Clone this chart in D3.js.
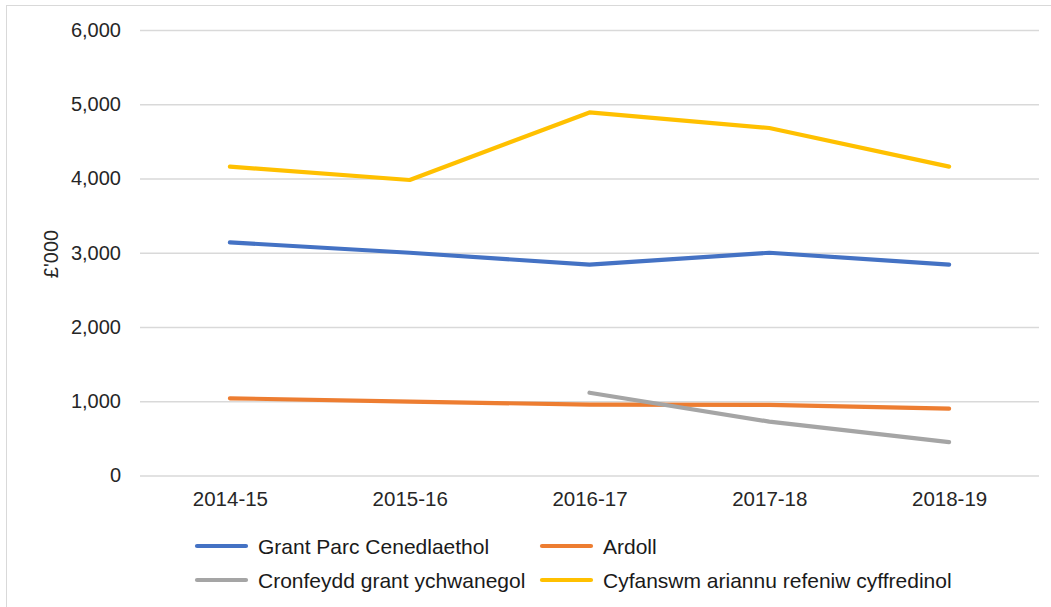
<!DOCTYPE html>
<html>
<head>
<meta charset="utf-8">
<script src="https://cdn.jsdelivr.net/npm/d3@7"></script>
<style>
  body { margin: 0; background: #fff; }
  svg { display: block; font-family: "Liberation Sans", Arial, sans-serif; }
</style>
</head>
<body>
<div id="chart"></div>
<script>
// data (£'000)
var categories = ["2014-15", "2015-16", "2016-17", "2017-18", "2018-19"];
var grantParc = [3140, 3000, 2840, 3000, 2840];
var ardoll = [1040, 995, 955, 950, 900];
var cronfeydd = [null, null, 1115, 725, 450];
var cyfanswm = [4160, 3980, 4890, 4680, 4160];
var yTicks = [0, 1000, 2000, 3000, 4000, 5000, 6000];

var series = [
  { name: "Grant Parc Cenedlaethol", values: grantParc, color: "#4472C4" },
  { name: "Ardoll", values: ardoll, color: "#ED7D31" },
  { name: "Cronfeydd grant ychwanegol", values: cronfeydd, color: "#A5A5A5" },
  { name: "Cyfanswm ariannu refeniw cyffredinol", values: cyfanswm, color: "#FFC000" }
];

var width = 1051,
    height = 607,
    plotLeft = 140,
    plotRight = 1039,
    plotTop = 30,
    plotBottom = 475.5;

var svg = d3.select("#chart")
  .append("svg")
    .attr("width", width)
    .attr("height", height);

// chart frame
svg.append("rect")
  .attr("x", 6.5).attr("y", 5.5)
  .attr("width", width + 10).attr("height", height + 10)
  .attr("fill", "none")
  .attr("stroke", "#d9d9d9");

var x = d3.scalePoint()
  .domain(categories)
  .range([plotLeft, plotRight])
  .padding(0.5);

var y = d3.scaleLinear()
  .domain([0, 6000])
  .range([plotBottom, plotTop]);

// gridlines + y labels
var yAxis = d3.axisLeft(y)
  .tickValues(yTicks)
  .tickSize(-(plotRight - plotLeft))
  .tickPadding(19)
  .tickFormat(d3.format(","));

svg.append("g")
  .attr("transform", "translate(" + plotLeft + ",0)")
  .call(yAxis)
  .call(function(g) {
    g.select(".domain").remove();
    g.selectAll(".tick line").attr("stroke", "#d9d9d9").attr("stroke-width", 1.3);
    g.selectAll(".tick text")
      .style("font-size", "20px")
      .attr("fill", "#262626");
  });

// x labels
var xAxis = d3.axisBottom(x).tickSize(0).tickPadding(16);

svg.append("g")
  .attr("transform", "translate(0," + plotBottom + ")")
  .call(xAxis)
  .call(function(g) {
    g.select(".domain").remove();
    g.selectAll(".tick text")
      .style("font-size", "20.5px")
      .attr("fill", "#262626");
  });

// y title
svg.append("text")
  .attr("transform", "translate(51,254) rotate(-90)")
  .attr("text-anchor", "middle")
  .attr("dominant-baseline", "central")
  .style("font-size", "20px")
  .attr("fill", "#262626")
  .text("£'000");

var line = d3.line()
  .defined(function(d) { return d != null; })
  .x(function(d, i) { return x(categories[i]); })
  .y(function(d) { return y(d); });

svg.selectAll("path.series")
  .data(series)
  .enter()
  .append("path")
    .attr("class", "series")
    .attr("d", function(d) { return line(d.values); })
    .attr("fill", "none")
    .attr("stroke", function(d) { return d.color; })
    .attr("stroke-width", 4.2)
    .attr("stroke-linecap", "round")
    .attr("stroke-linejoin", "round");

// legend, two columns
var legendX = [197, 542],
    legendY = [546, 580];

var item = svg.selectAll("g.legend")
  .data(series)
  .enter()
  .append("g")
    .attr("class", "legend")
    .attr("transform", function(d, i) {
      return "translate(" + legendX[i % 2] + "," + legendY[Math.floor(i / 2)] + ")";
    });

item.append("line")
  .attr("x1", 0).attr("x2", 49)
  .attr("stroke", function(d) { return d.color; })
  .attr("stroke-width", 4.2)
  .attr("stroke-linecap", "round");

item.append("text")
  .attr("x", 61)
  .attr("dominant-baseline", "central")
  .style("font-size", "21px")
  .attr("fill", "#1a1a1a")
  .text(function(d) { return d.name; });
</script>
</body>
</html>
